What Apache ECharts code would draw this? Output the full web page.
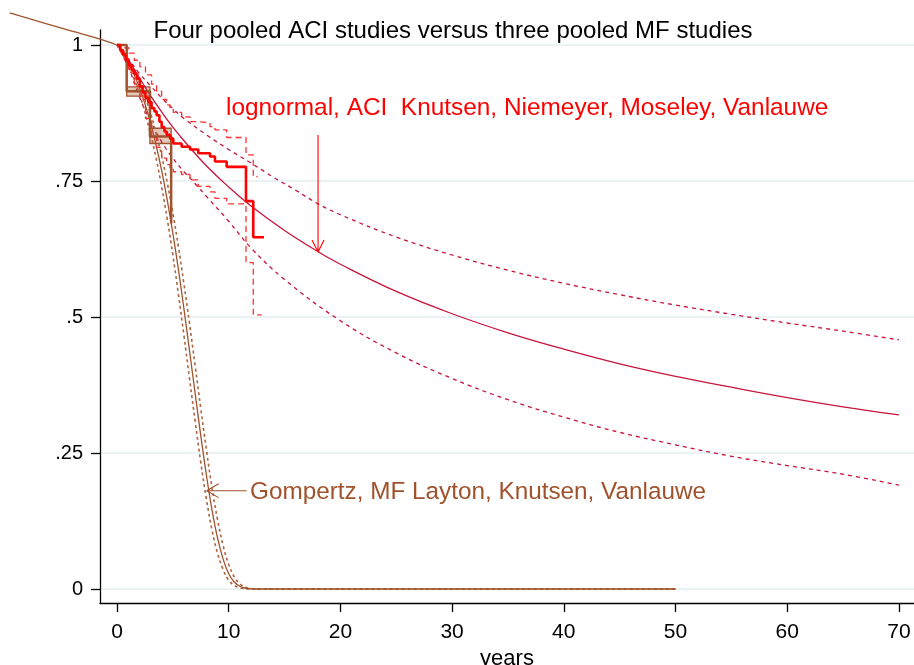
<!DOCTYPE html>
<html>
<head>
<meta charset="utf-8">
<script src="https://cdn.jsdelivr.net/npm/echarts@6/dist/echarts.min.js"></script>
<style>html,body{margin:0;padding:0;background:#fff}#c{width:914px;height:665px}</style>
</head>
<body>
<div id="c"></div>
<script>
// ---- axis ticks ----
const xTickValues = [0, 10, 20, 30, 40, 50, 60, 70];
const yTickValues = [0, 0.25, 0.5, 0.75, 1];
const yTickLabels = ['0', '.25', '.5', '.75', '1'];

// ---- lognormal fit, ACI (solid) and its confidence bounds (dotted) ----
const lnT  = [0, 0.5, 1, 2, 3, 4, 5, 6, 8, 10, 12, 15, 18, 20, 25, 30, 35, 40, 45, 50, 55, 60, 65, 70];
const lnS  = [1, 0.99, 0.974, 0.94, 0.907, 0.877, 0.849, 0.824, 0.778, 0.739, 0.704, 0.659, 0.62, 0.597, 0.547, 0.506, 0.471, 0.441, 0.414, 0.391, 0.371, 0.352, 0.335, 0.32];
const lnUpT = [0, 1, 2, 3, 4, 5, 6, 8, 10, 12, 14, 16, 18, 20, 25, 30, 35, 40, 45, 50, 55, 60, 65, 70];
const lnUp  = [1, 0.975, 0.948, 0.925, 0.903, 0.883, 0.865, 0.835, 0.808, 0.783, 0.757, 0.733, 0.708, 0.688, 0.647, 0.614, 0.586, 0.562, 0.541, 0.522, 0.505, 0.489, 0.474, 0.458];
const lnLoT = [0, 1, 2, 3, 4, 5, 6, 7, 8, 10, 12, 15, 20, 25, 30, 35, 40, 45, 50, 55, 60, 65, 70];
const lnLo  = [1, 0.96, 0.905, 0.86, 0.822, 0.792, 0.767, 0.745, 0.722, 0.676, 0.627, 0.569, 0.493, 0.434, 0.387, 0.348, 0.316, 0.288, 0.265, 0.244, 0.227, 0.211, 0.191];

// ---- Gompertz fit, MF (solid) and its bounds (dotted) ----
const gT = [-9.6, -4.8, 0, 0.5, 1, 1.5, 2, 2.5, 3, 3.5, 4, 4.5, 5, 5.5, 6, 6.5, 7, 7.5, 8, 8.5, 9, 9.5, 10, 10.5, 11, 11.5, 12, 13, 14, 50];
const gS = [1.059, 1.03, 1, 0.985, 0.968, 0.947, 0.922, 0.892, 0.857, 0.816, 0.769, 0.715, 0.654, 0.587, 0.514, 0.437, 0.359, 0.282, 0.21, 0.146, 0.094, 0.055, 0.028, 0.013, 0.005, 0.0014, 0.0004, 0, 0, 0];
const gLoT = [0, 1, 2, 3, 3.5, 4, 4.5, 5, 5.5, 6, 6.5, 7, 7.5, 8, 8.5, 9, 9.5, 10, 10.5, 11, 12, 13, 14, 50];
const gLo  = [1, 0.963, 0.911, 0.837, 0.792, 0.739, 0.68, 0.614, 0.542, 0.465, 0.386, 0.308, 0.233, 0.166, 0.109, 0.066, 0.036, 0.016, 0.0067, 0.0022, 0.0001, 0, 0, 0];
const gUpT = [0, 1, 2, 3, 3.5, 4, 4.5, 5, 5.5, 6, 6.5, 7, 7.5, 8, 8.5, 9, 9.5, 10, 10.5, 11, 11.5, 12, 13, 14, 50];
const gUp  = [1, 0.972, 0.932, 0.875, 0.838, 0.796, 0.747, 0.691, 0.629, 0.56, 0.487, 0.41, 0.332, 0.257, 0.187, 0.128, 0.08, 0.045, 0.0226, 0.0096, 0.0033, 0.0011, 0, 0, 0];

// ---- Kaplan-Meier, ACI pooled (red) ----
const kmAciT = [0, 0.3, 0.55, 0.8, 1.05, 1.3, 1.55, 1.8, 2.05, 2.3, 2.55, 2.8, 3.1, 3.35, 3.55, 3.8, 4.0, 4.25, 4.45, 4.75, 5.04, 5.79, 6.54, 7.28, 8.33, 8.77, 9.82, 11.55, 12.2, 13.16];
const kmAciS = [1, 0.99, 0.982, 0.972, 0.963, 0.954, 0.947, 0.938, 0.924, 0.913, 0.903, 0.895, 0.884, 0.878, 0.871, 0.859, 0.849, 0.841, 0.835, 0.828, 0.819, 0.813, 0.808, 0.801, 0.795, 0.786, 0.776, 0.713, 0.6465, 0.6465];
const kmAciUpT = [0, 0.55, 1.05, 1.55, 2.05, 2.55, 3.1, 3.55, 4.0, 4.45, 4.75, 5.04, 5.79, 6.54, 7.28, 8.33, 8.77, 9.82, 11.55, 12.2, 12.6];
const kmAciUp  = [1, 0.995, 0.985, 0.972, 0.96, 0.945, 0.928, 0.915, 0.9, 0.89, 0.882, 0.876, 0.868, 0.859, 0.857, 0.85, 0.844, 0.83, 0.798, 0.758, 0.758];
const kmAciLoT = [0, 0.55, 1.05, 1.55, 2.05, 2.55, 3.1, 3.55, 4.0, 4.45, 4.75, 5.04, 5.79, 6.54, 7.28, 8.33, 8.77, 9.82, 11.55, 12.2, 12.95];
const kmAciLo  = [1, 0.975, 0.95, 0.925, 0.9, 0.865, 0.83, 0.812, 0.792, 0.78, 0.773, 0.767, 0.762, 0.752, 0.74, 0.73, 0.718, 0.708, 0.6, 0.504, 0.504];

// ---- Kaplan-Meier, MF pooled (brown) with shaded band ----
const kmMfT = [0, 0.87, 2.95, 4.85];
const kmMfS = [1, 0.915, 0.832, 0.672];
const mfBandStart = [0.87, 2.95];
const mfBandEnd   = [2.95, 4.85];
const mfBandLo    = [0.906, 0.819];
const mfBandHi    = [0.923, 0.847];

// ---- annotation arrows (data coordinates) ----
const redArrowT = [18, 18, 17.46, 18, 18.54];
const redArrowS = [0.8346, 0.6195, 0.6415, 0.6195, 0.6415];
const brownArrowT = [11.61, 8.03, 9.1, 8.03, 9.1];
const brownArrowS = [0.1807, 0.1807, 0.1935, 0.1807, 0.168];

const zip = (a, b) => a.map((v, i) => [v, b[i]]);

const RED = '#ff0000';
const CRIMSON = '#c8143c';
const BROWN = '#a0522d';
const FONT = 'Liberation Sans, Arial, sans-serif';

const chart = echarts.init(document.getElementById('c'), null, {renderer: 'canvas'});

const lineBase = {type: 'line', symbol: 'none', silent: true, animation: false};

// second (full-canvas) coordinate system with the same scale, so the Gompertz
// curve can run past the left edge of the plot region as in the original
const xPerPx = 1 / 11.171;
const hiddenAxis = {show: false, axisLine: {show: false}, axisTick: {show: false}, axisLabel: {show: false}, splitLine: {show: false}};

chart.setOption({
  animation: false,
  backgroundColor: '#ffffff',
  grid: [
    {left: 100, right: 0, top: 30, bottom: 62, containLabel: false, outerBoundsMode: 'none'},
    {left: 0, right: 0, top: 0, bottom: 62, containLabel: false, outerBoundsMode: 'none'}
  ],
  xAxis: [{
    type: 'value', min: -1.52, max: 71.35, gridIndex: 0,
    axisLine: {show: true, onZero: false, lineStyle: {color: '#000', width: 1.3}},
    axisTick: {show: true, customValues: xTickValues, length: 9, lineStyle: {color: '#000', width: 1.3}},
    axisLabel: {customValues: xTickValues, color: '#000', fontSize: 21, fontFamily: FONT, margin: 19},
    splitLine: {show: false},
    name: 'years', nameLocation: 'middle', nameGap: 42,
    nameTextStyle: {color: '#000', fontSize: 22, fontFamily: FONT}
  }, Object.assign({type: 'value', gridIndex: 1, min: -117 * xPerPx, max: 71.35}, hiddenAxis)],
  yAxis: [{
    type: 'value', min: -0.0257, max: 1.0276, gridIndex: 0,
    axisLine: {show: true, onZero: false, lineStyle: {color: '#000', width: 1.3}},
    axisTick: {show: true, customValues: yTickValues, length: 9, lineStyle: {color: '#000', width: 1.3}},
    axisLabel: {
      customValues: yTickValues, color: '#000', fontSize: 20, fontFamily: FONT, margin: 17,
      formatter: v => yTickLabels[yTickValues.indexOf(v)]
    },
    splitLine: {show: true, lineStyle: {color: '#e3eef1', width: 1.5}}
  }, Object.assign({type: 'value', gridIndex: 1, min: -0.0257, max: 1 + 45 / 544}, hiddenAxis)],
  graphic: [
    {type: 'text', x: 453, y: 31, silent: true,
     style: {text: 'Four pooled ACI studies versus three pooled MF studies', fill: '#000',
             font: '24px ' + FONT, textAlign: 'center', textVerticalAlign: 'middle'}},
    {type: 'text', x: 226, y: 108, silent: true,
     style: {text: 'lognormal, ACI  Knutsen, Niemeyer, Moseley, Vanlauwe', fill: RED,
             font: '24.4px ' + FONT, textAlign: 'left', textVerticalAlign: 'middle'}},
    {type: 'text', x: 250, y: 492, silent: true,
     style: {text: 'Gompertz, MF Layton, Knutsen, Vanlauwe', fill: BROWN,
             font: '24.3px ' + FONT, textAlign: 'left', textVerticalAlign: 'middle'}}
  ],
  series: [
    {
      type: 'custom', silent: true, animation: false,
      data: mfBandStart.map((t, i) => [t, mfBandEnd[i], mfBandLo[i], mfBandHi[i]]),
      encode: {x: [0, 1], y: [2, 3]},
      renderItem: (params, api) => {
        const p0 = api.coord([api.value(0), api.value(3)]);
        const p1 = api.coord([api.value(1), api.value(2)]);
        return {type: 'rect', shape: {x: p0[0], y: p0[1], width: p1[0] - p0[0], height: p1[1] - p0[1]},
                style: {fill: '#e4c9bb', stroke: BROWN, lineWidth: 1.3}};
      }
    },
    Object.assign({}, lineBase, {name: 'lnLo', data: zip(lnLoT, lnLo), smooth: 0.4,
      lineStyle: {color: CRIMSON, width: 1.3, type: [4, 4]}}),
    Object.assign({}, lineBase, {name: 'lnUp', data: zip(lnUpT, lnUp), smooth: 0.4,
      lineStyle: {color: CRIMSON, width: 1.3, type: [4, 4]}}),
    Object.assign({}, lineBase, {name: 'ln', data: zip(lnT, lnS), smooth: 0.4,
      lineStyle: {color: CRIMSON, width: 1.3}}),
    Object.assign({}, lineBase, {name: 'gLo', data: zip(gLoT, gLo), smooth: 0.4,
      lineStyle: {color: '#ad6440', width: 1.6, type: [3, 3]}}),
    Object.assign({}, lineBase, {name: 'gUp', data: zip(gUpT, gUp), smooth: 0.4,
      lineStyle: {color: '#ad6440', width: 1.6, type: [3, 3]}}),
    Object.assign({}, lineBase, {name: 'g', data: zip(gT, gS), smooth: 0.4, clip: false,
      xAxisIndex: 1, yAxisIndex: 1,
      lineStyle: {color: BROWN, width: 1.3}}),
    Object.assign({}, lineBase, {name: 'kmUp', data: zip(kmAciUpT, kmAciUp), step: 'end',
      lineStyle: {color: '#ff3030', width: 1.3, type: [6, 4]}}),
    Object.assign({}, lineBase, {name: 'kmLo', data: zip(kmAciLoT, kmAciLo), step: 'end',
      lineStyle: {color: '#ff3030', width: 1.3, type: [6, 4]}}),
    Object.assign({}, lineBase, {name: 'kmMf', data: zip(kmMfT, kmMfS), step: 'end',
      lineStyle: {color: BROWN, width: 2.5}}),
    Object.assign({}, lineBase, {name: 'kmAci', data: zip(kmAciT, kmAciS), step: 'end',
      lineStyle: {color: RED, width: 2.6}}),
    Object.assign({}, lineBase, {name: 'redArrow', data: zip(redArrowT, redArrowS),
      lineStyle: {color: RED, width: 1.1}}),
    Object.assign({}, lineBase, {name: 'brownArrow', data: zip(brownArrowT, brownArrowS),
      lineStyle: {color: BROWN, width: 1.1}})
  ]
});
</script>
</body>
</html>
